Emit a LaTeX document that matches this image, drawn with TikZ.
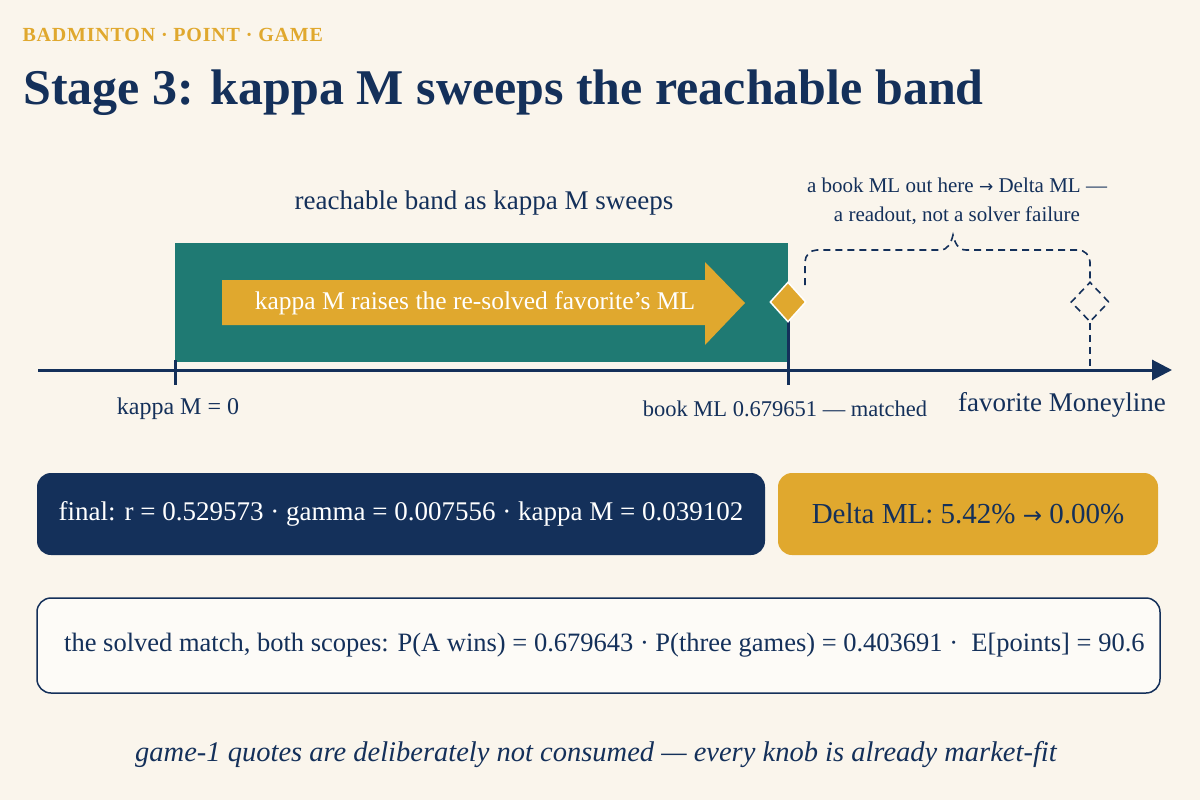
\documentclass[tikz,border=0pt]{standalone}
\usepackage{fontspec}
\setmainfont{Liberation Serif}
\newfontfamily\symf{DejaVu Sans}
\usetikzlibrary{shapes.geometric,arrows.meta}
\definecolor{bg}{HTML}{FAF5EC}
\definecolor{navy}{HTML}{14305A}
\definecolor{teal}{HTML}{1F7A73}
\definecolor{gold}{HTML}{E0A82E}
\begin{document}
\begin{tikzpicture}[x=1pt,y=-1pt,
 lbl/.style={text=navy,font=\fontsize{22}{24}\selectfont,inner sep=0},
 dsh/.style={navy,line width=1.6pt,dash pattern=on 7pt off 5pt},
 box/.style={rounded corners=14pt,minimum height=82pt,inner sep=0}]
\useasboundingbox[fill=bg] (0,0) rectangle (1200,800);
\node[anchor=west,text=gold,font=\fontsize{20}{22}\selectfont\bfseries\addfontfeature{LetterSpace=4}] (kicker) at (19,35) {BADMINTON · POINT · GAME};
\node[anchor=west,text=navy,font=\fontsize{50}{54}\selectfont\bfseries] (title) at (20,93) {Stage 3: kappa M sweeps the reachable band};
\node[fill=teal,minimum width=613pt,minimum height=119pt,inner sep=0] (band) at (481.5,302.5) {};
\fill[gold] (222,280) -- (705,280) -- (705,262) -- (745,303) -- (705,345) -- (705,325) -- (222,325) -- cycle;
\node[text=white,font=\fontsize{25.5}{28}\selectfont,inner sep=0] (arrtxt) at (475,303) {kappa M raises the re-solved favorite's ML};
\coordinate (a0) at (38,370); \coordinate (a1) at (1172,370);
\draw[navy,line width=3pt,-{Triangle[length=20pt,width=20pt]}] (a0) -- (a1);
\coordinate (t0a) at (175,360); \coordinate (t0b) at (175,385);
\draw[navy,line width=3pt] (t0a) -- (t0b);
\coordinate (t1a) at (788,310); \coordinate (t1b) at (788,385);
\draw[navy,line width=3pt] (t1a) -- (t1b);
\node[diamond,fill=gold,draw=white,line width=1.5pt,minimum width=36pt,minimum height=40pt,inner sep=0] (dm) at (788,302) {};
\node[diamond,draw=navy,dsh,minimum width=38pt,minimum height=40pt,inner sep=0,fill=bg] (dd) at (1090,302) {};
\coordinate (dda) at (1090,370);
\draw[dsh] (dd.south) -- (dda);
\coordinate (br0) at (805,285);
\draw[dsh] (br0) -- (805,262) arc[start angle=180,end angle=90,radius=12pt] -- (940,250)
  .. controls (948,250) and (951,243) .. (953,235) .. controls (955,243) and (958,250) .. (966,250)
  -- (1078,250) arc[start angle=90,end angle=0,radius=12pt] -- (dd.north);
\node[lbl,font=\fontsize{27}{30}\selectfont] (bandlbl) at (484,203) {reachable band as kappa M sweeps};
\node[lbl,align=center,font=\fontsize{21}{29}\selectfont] (note) at (957,201) {a book ML out here {\symf\fontsize{17}{17}\selectfont →} Delta ML ---\\a readout, not a solver failure};
\node[lbl,font=\fontsize{24}{26}\selectfont] (k0) at (178,409) {kappa M = 0};
\node[lbl,font=\fontsize{22.5}{26}\selectfont] (bk) at (785,409) {book ML 0.679651 --- matched};
\node[lbl,font=\fontsize{27}{30}\selectfont] (fm) at (1062,405) {favorite Moneyline};
\node[box,fill=navy,minimum width=728pt,text=white,font=\fontsize{27}{30}\selectfont] (final) at (401,514) {final: r = 0.529573 · gamma = 0.007556 · kappa M = 0.039102};
\node[box,fill=gold,minimum width=380pt,text=navy,font=\fontsize{29}{30}\selectfont] (delta) at (968,514) {Delta ML: 5.42\% {\symf\fontsize{23}{23}\selectfont →} 0.00\%};
\node[box,draw=navy,line width=1.5pt,fill=white!60!bg,minimum width=1123pt,minimum height=95pt] (solved) at (598.5,645.5) {};
\node[lbl,anchor=west,font=\fontsize{26.5}{30}\selectfont] (stext) at (64,645) {the solved match, both scopes: P(A wins) = 0.679643 · P(three games) = 0.403691 · \ E[points] = 90.6};
\node[lbl,font=\fontsize{28.5}{30}\selectfont\itshape] (foot) at (596,755) {game-1 quotes are deliberately not consumed --- every knob is already market-fit};
\end{tikzpicture}
\end{document}
